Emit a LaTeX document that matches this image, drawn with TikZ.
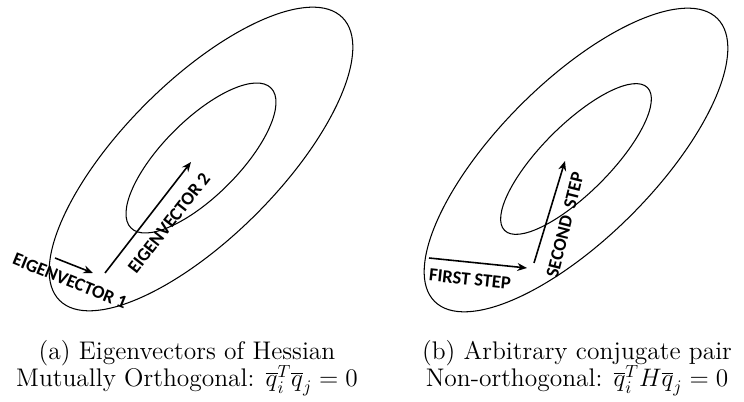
\documentclass[tikz,border=0pt]{standalone}
\usepackage{fontspec}
\usetikzlibrary{arrows.meta}
\newfontfamily\lblfont{Carlito}
\begin{document}
\begin{tikzpicture}[x=0.02cm, y=0.02cm,
    contour/.style={line width=0.6pt},
    vec/.style={line width=0.9pt, -{Stealth[length=5.5pt,width=4.5pt]}},
    lbl/.style={font=\lblfont\bfseries\fontsize{10.5}{12}\selectfont, inner sep=0pt},
    subcap/.style={font=\fontsize{14.5}{16}\selectfont, inner sep=0pt, anchor=base}]
\useasboundingbox (0,0) rectangle (744,402);
\foreach \cx/\cy/\ia/\ib in {201/243/99/38, 576/242/101/34} {
    \draw[contour, rotate around={45:(\cx,\cy)}] (\cx,\cy) ellipse [x radius=200, y radius=78];
    \draw[contour, rotate around={45:(\cx,\cy+1)}] (\cx,\cy+1) ellipse [x radius=\ia, y radius=\ib];
}
\coordinate (e1s) at (55,144);
\coordinate (e1e) at (93,129);
\coordinate (e2s) at (105,129);
\coordinate (e2e) at (191,240);
\coordinate (s1s) at (429,144);
\coordinate (s1e) at (527,134);
\coordinate (s2s) at (534,139);
\coordinate (s2e) at (565,241);
\draw[vec] (e1s) -- (e1e);
\draw[vec] (e2s) -- (e2e);
\draw[vec] (s1s) -- (s1e);
\draw[vec] (s2s) -- (s2e);
\node[lbl, rotate=-22] (ev1) at (70,121) {EIGENVECTOR 1};
\node[lbl, rotate=52] (ev2) at (169,179) {EIGENVECTOR 2};
\node[lbl, rotate=-6] (first) at (470,123) {FIRST STEP};
\node[lbl, rotate=76] (second) at (565,177) {SECOND\ \ STEP};
\node[subcap] (capa) at (187,42) {(a) Eigenvectors of Hessian};
\node[subcap] (orth) at (187,15) {Mutually Orthogonal: $\overline{q}_i^T\overline{q}_j=0$};
\node[subcap] (capb) at (577,42) {(b) Arbitrary conjugate pair};
\node[subcap] (conj) at (577,15) {Non-orthogonal: $\overline{q}_i^TH\overline{q}_j=0$};
\end{tikzpicture}
\end{document}
